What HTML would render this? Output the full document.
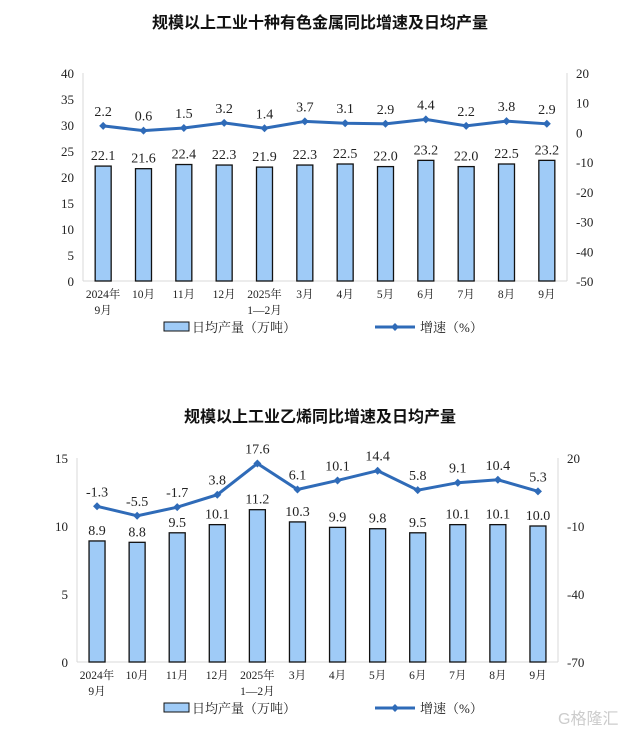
<!DOCTYPE html>
<html><head><meta charset="utf-8"><style>
body{margin:0;background:#fff;width:630px;height:735px;overflow:hidden;font-family:"Liberation Serif","Noto Serif CJK SC",serif;}
svg{display:block}
</style></head><body>
<svg id="s" width="630" height="735" xmlns="http://www.w3.org/2000/svg"></svg>
<script>
const categories1=["2024年|9月","10月","11月","12月","2025年|1—2月","3月","4月","5月","6月","7月","8月","9月"];
const output1=[22.1,21.6,22.4,22.3,21.9,22.3,22.5,22.0,23.2,22.0,22.5,23.2];
const growth1=[2.2,0.6,1.5,3.2,1.4,3.7,3.1,2.9,4.4,2.2,3.8,2.9];
const leftTicks1=[0,5,10,15,20,25,30,35,40];
const rightTicks1=[-50,-40,-30,-20,-10,0,10,20];
const categories2=categories1;
const output2=[8.9,8.8,9.5,10.1,11.2,10.3,9.9,9.8,9.5,10.1,10.1,10.0];
const growth2=[-1.3,-5.5,-1.7,3.8,17.6,6.1,10.1,14.4,5.8,9.1,10.4,5.3];
const leftTicks2=[0,5,10,15];
const rightTicks2=[-70,-40,-10,20];

const NS="http://www.w3.org/2000/svg";
const svg=document.getElementById('s');
function el(tag,attrs,parent,text){const e=document.createElementNS(NS,tag);for(const k in attrs)e.setAttribute(k,attrs[k]);if(text!==undefined)e.textContent=text;(parent||svg).appendChild(e);return e;}

function chart(cfg){
  const g=el('g',{});
  
  
  const t=el('text',{x:320,y:cfg.titleY,'text-anchor':'middle','font-size':16,'font-weight':'bold',fill:'#111','font-family':'"Liberation Sans","Noto Sans CJK SC",sans-serif'},g,cfg.title);
  
  
  const yL=v=>cfg.bottom-(v-cfg.lMin)/(cfg.lMax-cfg.lMin)*(cfg.bottom-cfg.top);
  const yR=v=>cfg.bottom-(v-cfg.rMin)/(cfg.rMax-cfg.rMin)*(cfg.bottom-cfg.top);
  const n=cfg.cats.length;
  const step=(cfg.right-cfg.left)/n;
  const xC=i=>cfg.left+step*(i+0.5);
  el('line',{x1:cfg.left,y1:cfg.top,x2:cfg.left,y2:cfg.bottom,stroke:'#d9d9d9'},g);
  el('line',{x1:cfg.right,y1:cfg.top,x2:cfg.right,y2:cfg.bottom,stroke:'#d9d9d9'},g);
  el('line',{x1:cfg.left,y1:cfg.bottom,x2:cfg.right,y2:cfg.bottom,stroke:'#d9d9d9'},g);
  cfg.lTicks.forEach(v=>{const tx=el('text',{x:cfg.left-9,y:yL(v)+5,'text-anchor':'end','font-size':13,fill:'#222'},g,v);});
  cfg.rTicks.forEach(v=>{const tx=el('text',{x:cfg.right+9,y:yR(v)+5,'text-anchor':'start','font-size':13,fill:'#222'},g,v);});
  cfg.bars.forEach((v,i)=>{
    const r=el('rect',{x:xC(i)-8,y:yL(v),width:16,height:cfg.bottom-yL(v),fill:'#9fcbf7',stroke:'#111','stroke-width':1.3},g);
    
    
    const l=el('text',{x:xC(i),y:yL(v)-6,'text-anchor':'middle','font-size':14,fill:'#222'},g,v.toFixed(1));
    
    
  });
  const pts=cfg.line.map((v,i)=>xC(i)+','+yR(v)).join(' ');
  const pl=el('polyline',{points:pts,fill:'none',stroke:'#2f6bb8','stroke-width':3},g);
  
  
  cfg.line.forEach((v,i)=>{
    const x=xC(i),y=yR(v);
    const d=el('polygon',{points:`${x},${y-4} ${x+4},${y} ${x},${y+4} ${x-4},${y}`,fill:'#2f6bb8'},g);
    
    
    const l=el('text',{x:x,y:y-10,'text-anchor':'middle','font-size':14,fill:'#222'},g,v.toFixed(1));
    
    
  });
  cfg.cats.forEach((c,i)=>{
    c.split('|').forEach((p,j)=>{const tx=el('text',{x:xC(i),y:cfg.bottom+17+j*16,'text-anchor':'middle','font-size':11.5,fill:'#222'},g,p);});
  });
  const ly=cfg.legendY;
  const lg=el('g',{},g);
  
  
  el('rect',{x:164,y:ly-5,width:25,height:9,fill:'#9fcbf7',stroke:'#111','stroke-width':1},lg);
  el('text',{x:192,y:ly+5,'font-size':13,fill:'#222'},lg,'日均产量（万吨）');
  el('line',{x1:375,y1:ly,x2:415,y2:ly,stroke:'#2f6bb8','stroke-width':3},lg);
  el('polygon',{points:`395,${ly-4} 399,${ly} 395,${ly+4} 391,${ly}`,fill:'#2f6bb8'},lg);
  el('text',{x:420,y:ly+5,'font-size':13,fill:'#222'},lg,'增速（%）');
}
chart({name:'nonferrous-chart',title:'规模以上工业十种有色金属同比增速及日均产量',titleY:28,left:83,right:567,top:73,bottom:281,lMin:0,lMax:40,rMin:-50,rMax:20,lTicks:leftTicks1,rTicks:rightTicks1,cats:categories1,bars:output1,line:growth1,legendY:327});
chart({name:'ethylene-chart',title:'规模以上工业乙烯同比增速及日均产量',titleY:422,left:77,right:558,top:458,bottom:662,lMin:0,lMax:15,rMin:-70,rMax:20,lTicks:leftTicks2,rTicks:rightTicks2,cats:categories2,bars:output2,line:growth2,legendY:708});
const wm=el('text',{x:558,y:724,'font-size':16,fill:'#ccc','font-family':'"Liberation Sans","Noto Sans CJK SC",sans-serif'},svg,'G格隆汇');


</script>
</body></html>
